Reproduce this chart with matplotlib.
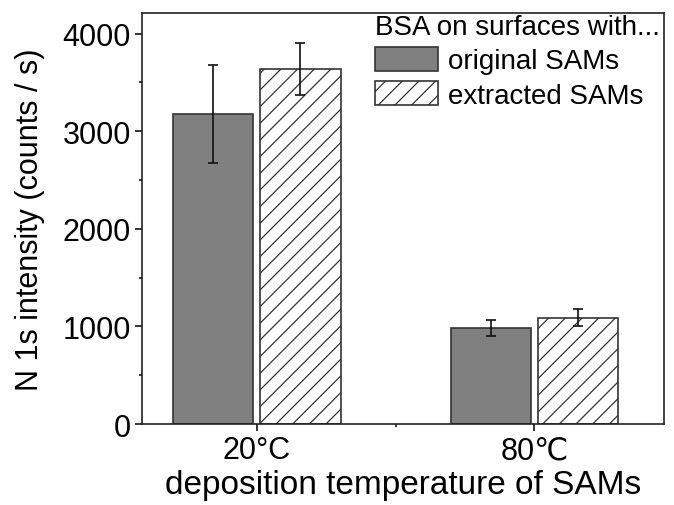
import numpy as np
import matplotlib
matplotlib.use("Agg")
import matplotlib.pyplot as plt
from matplotlib.ticker import MultipleLocator, FixedLocator

### DATA ###
categories = ['20°C', '80℃']
original_sams = [3175, 985]
original_err = [500, 80]
extracted_sams = [3635, 1090]
extracted_err = [265, 85]

### STYLE ###
plt.rcParams['font.family'] = ['Liberation Sans', 'DejaVu Sans']
plt.rcParams['hatch.linewidth'] = 0.9
plt.rcParams['hatch.color'] = '#222222'

### PLOT ###
fig = plt.figure(figsize=(6.74, 5.06), dpi=100)
ax = fig.add_axes([0.211, 0.160, 0.774, 0.812])

x = np.arange(1, len(categories) + 1)
w = 0.29
off = 0.157
err_kw = dict(ecolor='#111111', elinewidth=1.2, capsize=3.5, capthick=1.2)

ax.bar(x - off, original_sams, w, yerr=original_err, color='#808080',
       edgecolor='#333333', linewidth=1.2, label='original SAMs', error_kw=err_kw)
ax.bar(x + off, extracted_sams, w, yerr=extracted_err, color='white',
       edgecolor='#333333', linewidth=1.2, hatch='//', label='extracted SAMs', error_kw=err_kw)

ax.set_xlim(0.588, 2.466)
ax.set_ylim(0, 4210)
ax.set_xticks(x)
ax.set_xticklabels(categories, fontsize=22)
ax.xaxis.set_minor_locator(FixedLocator([1.5]))
ax.yaxis.set_major_locator(MultipleLocator(1000))
ax.yaxis.set_minor_locator(MultipleLocator(500))
ax.tick_params(axis='y', labelsize=22)
ax.tick_params(which='major', direction='out', length=5, width=1.1, pad=3)
ax.tick_params(which='minor', direction='out', length=2.5, width=1.1)
for s in ax.spines.values():
    s.set_linewidth(1.2)
    s.set_color('#222222')

ax.set_ylabel('N 1s intensity (counts / s)', fontsize=22, labelpad=13)
ax.set_xlabel('deposition temperature of SAMs', fontsize=24, labelpad=3)

leg = ax.legend(title='BSA on surfaces with...', loc='upper left',
                bbox_to_anchor=(0.44, 1.005), frameon=False, fontsize=20,
                title_fontsize=20, handlelength=2.3, handleheight=0.95,
                handletextpad=0.35, labelspacing=0.25, borderaxespad=0,
                borderpad=0.1)
leg._legend_box.align = 'left'

fig.savefig('out.png', dpi=100)
